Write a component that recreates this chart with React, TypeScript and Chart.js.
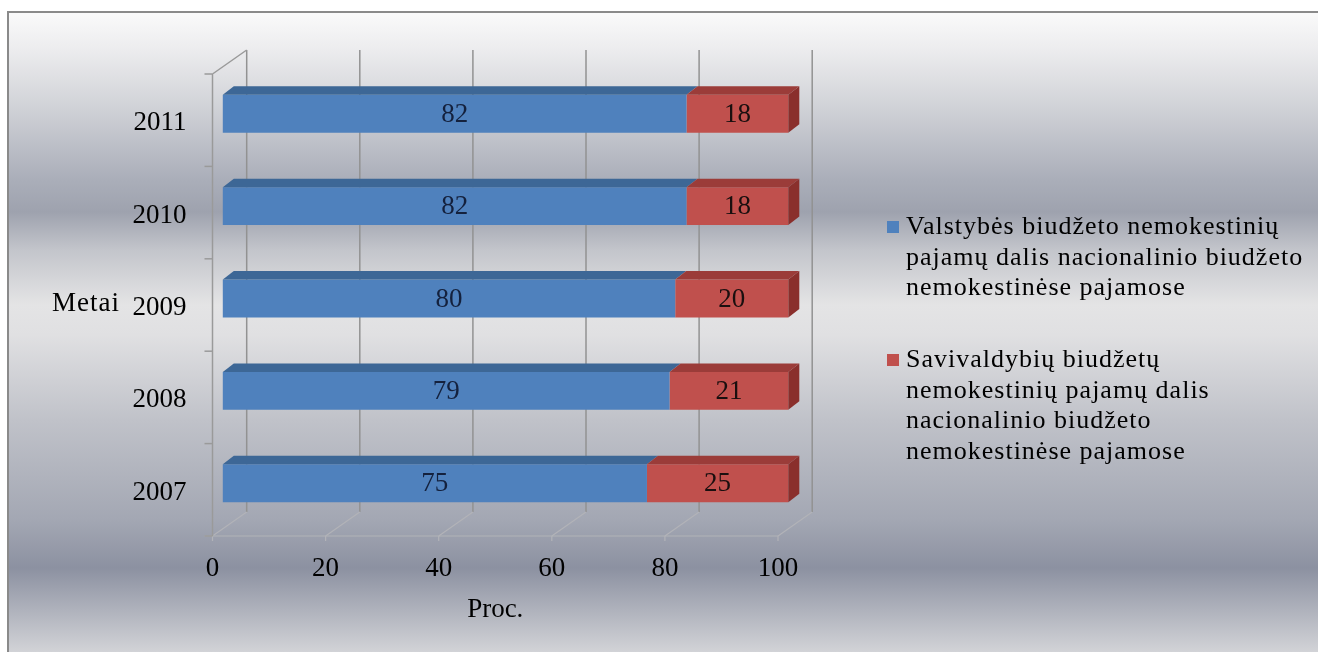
import React, { useEffect, useRef } from 'react';
import { Chart, registerables } from 'chart.js';

Chart.register(...registerables);

// ---------- data ----------
const years = ['2007', '2008', '2009', '2010', '2011'];
const stateShare = [75, 79, 80, 82, 82];
const municipalShare = [25, 21, 20, 18, 18];
const xTickValues = [0, 20, 40, 60, 80, 100];
const seriesNames = [
  'Valstybės biudžeto nemokestinių pajamų dalis nacionalinio biudžeto nemokestinėse pajamose',
  'Savivaldybių biudžetų nemokestinių pajamų dalis nacionalinio biudžeto nemokestinėse pajamose',
];
const legendLines = [
  ['Valstybės biudžeto nemokestinių', 'pajamų dalis nacionalinio biudžeto', 'nemokestinėse pajamose'],
  ['Savivaldybių biudžetų', 'nemokestinių pajamų dalis', 'nacionalinio biudžeto', 'nemokestinėse pajamose'],
];
const xTitle = 'Proc.';
const yTitle = 'Metai';

// ---------- style ----------
const W = 1318;
const H = 652;
const FONT_FAMILY = '"Liberation Serif", "Times New Roman", serif';
const BLUE = '#4f81bd';
const BLUE_TOP = '#3d6796';
const RED = '#c0504d';
const RED_TOP = '#9b3c39';
const RED_SIDE = '#8a2f2c';
const WALL_DX = 34.2;
const WALL_DY = -24;
const BAR_SHIFT_X = 10.3;
const BAR_SHIFT_Y = -6.5;
const BAR_DEPTH_DX = 11;
const BAR_DEPTH_DY = -8.5;

const threeD = {
  id: 'threeD',
  beforeDraw(chart: any) {
    const ctx = chart.ctx as CanvasRenderingContext2D;
    ctx.save();
    ctx.fillStyle = '#ffffff';
    ctx.fillRect(0, 0, W, H);
    const g = ctx.createLinearGradient(0, 12, 0, H);
    const stops: [number, string][] = [
      [12, '#fafafa'],
      [50, '#ececee'],
      [110, '#cfd1d6'],
      [180, '#aaaeb9'],
      [212, '#9ea2ae'],
      [250, '#c3c5cb'],
      [305, '#e4e4e5'],
      [335, '#e0e0e2'],
      [420, '#c0c2c9'],
      [520, '#a3a7b3'],
      [568, '#8c91a1'],
      [610, '#afb2bc'],
      [652, '#d2d3d7'],
    ];
    stops.forEach(([y, c]) => g.addColorStop((y - 12) / (H - 12), c));
    ctx.fillStyle = g;
    ctx.fillRect(8, 12, W - 8, H - 12);
    ctx.strokeStyle = '#8a8a8a';
    ctx.lineWidth = 2;
    ctx.beginPath();
    ctx.moveTo(8, H + 5);
    ctx.lineTo(8, 12);
    ctx.lineTo(W + 5, 12);
    ctx.stroke();
    ctx.restore();
  },
  beforeDatasetsDraw(chart: any) {
    const ctx = chart.ctx as CanvasRenderingContext2D;
    const xs = chart.scales.x;
    const { top, bottom, left } = chart.chartArea;
    ctx.save();
    // back wall gridlines
    ctx.strokeStyle = '#929292';
    ctx.lineWidth = 1.5;
    xTickValues.forEach((v) => {
      const px = xs.getPixelForValue(v) + WALL_DX;
      ctx.beginPath();
      ctx.moveTo(px, top + WALL_DY);
      ctx.lineTo(px, bottom + WALL_DY);
      ctx.stroke();
    });
    // floor diagonals
    ctx.strokeStyle = '#b2b3b8';
    ctx.lineWidth = 1.2;
    xTickValues.forEach((v) => {
      const px = xs.getPixelForValue(v);
      ctx.beginPath();
      ctx.moveTo(px, bottom);
      ctx.lineTo(px + WALL_DX, bottom + WALL_DY);
      ctx.stroke();
      ctx.beginPath();
      ctx.moveTo(px, bottom);
      ctx.lineTo(px, bottom + 5);
      ctx.stroke();
    });
    // front floor line
    ctx.beginPath();
    ctx.moveTo(left - 8, bottom);
    ctx.lineTo(xs.getPixelForValue(100), bottom);
    ctx.stroke();
    // left wall: front vertical + top diagonal + ticks
    ctx.strokeStyle = '#9a9a9a';
    ctx.lineWidth = 1.5;
    ctx.beginPath();
    ctx.moveTo(left, top);
    ctx.lineTo(left, bottom);
    ctx.moveTo(left, top);
    ctx.lineTo(left + WALL_DX, top + WALL_DY);
    ctx.stroke();
    const n = years.length;
    const step = (bottom - top) / n;
    for (let i = 0; i <= n; i++) {
      const y = top + i * step;
      ctx.beginPath();
      ctx.moveTo(left - 8, y);
      ctx.lineTo(left, y);
      ctx.stroke();
    }
    ctx.restore();
    // shift the bars into the middle depth of the 3D box
    ctx.save();
    ctx.translate(BAR_SHIFT_X, BAR_SHIFT_Y);
  },
  afterDatasetsDraw(chart: any) {
    const ctx = chart.ctx as CanvasRenderingContext2D;
    const topColors = [BLUE_TOP, RED_TOP];
    const lastIndex = chart.data.datasets.length - 1;
    chart.data.datasets.forEach((ds: any, di: number) => {
      const meta = chart.getDatasetMeta(di);
      meta.data.forEach((el: any) => {
        const { x, y, base, height } = el.getProps(['x', 'y', 'base', 'height'], true);
        const t = y - height / 2;
        const b = y + height / 2;
        ctx.fillStyle = topColors[di];
        ctx.beginPath();
        ctx.moveTo(base, t);
        ctx.lineTo(x, t);
        ctx.lineTo(x + BAR_DEPTH_DX, t + BAR_DEPTH_DY);
        ctx.lineTo(base + BAR_DEPTH_DX, t + BAR_DEPTH_DY);
        ctx.closePath();
        ctx.fill();
        if (di === lastIndex) {
          ctx.fillStyle = RED_SIDE;
          ctx.beginPath();
          ctx.moveTo(x, t);
          ctx.lineTo(x + BAR_DEPTH_DX, t + BAR_DEPTH_DY);
          ctx.lineTo(x + BAR_DEPTH_DX, b + BAR_DEPTH_DY);
          ctx.lineTo(x, b);
          ctx.closePath();
          ctx.fill();
        }
      });
    });
    // value labels
    ctx.font = `27px ${FONT_FAMILY}`;
    ctx.textAlign = 'center';
    ctx.textBaseline = 'middle';
    const labelColors = ['#14213d', '#1a0f0f'];
    chart.data.datasets.forEach((ds: any, di: number) => {
      const meta = chart.getDatasetMeta(di);
      meta.data.forEach((el: any, i: number) => {
        const { x, y, base } = el.getProps(['x', 'y', 'base'], true);
        ctx.fillStyle = labelColors[di];
        ctx.fillText(String(ds.data[i]), (x + base) / 2, y + 1);
      });
    });
    ctx.restore();
  },
  afterDraw(chart: any) {
    const ctx = chart.ctx as CanvasRenderingContext2D;
    ctx.save();
    ctx.font = `27px ${FONT_FAMILY}`;
    ctx.fillStyle = '#000';
    ctx.textAlign = 'left';
    ctx.textBaseline = 'middle';
    (ctx as any).letterSpacing = '1px';
    ctx.fillText(yTitle, 52, 304);
    // legend
    ctx.font = `26px ${FONT_FAMILY}`;
    const colors = [BLUE, RED];
    const starts = [227, 360];
    const lineGap = 30.7;
    legendLines.forEach((lines, si) => {
      ctx.fillStyle = colors[si];
      ctx.fillRect(887, starts[si] - 6, 12, 12);
      ctx.fillStyle = '#000';
      lines.forEach((ln, li) => {
        ctx.fillText(ln, 906, starts[si] + li * lineGap);
      });
    });
    ctx.restore();
  },
};

export default function App() {
  const ref = useRef<HTMLCanvasElement | null>(null);
  useEffect(() => {
    if (!ref.current) return;
    const font = { family: FONT_FAMILY, size: 27 };
    const chart = new Chart(ref.current, {
      type: 'bar',
      data: {
        labels: years,
        datasets: [
          {
            label: seriesNames[0],
            data: stateShare,
            backgroundColor: BLUE,
            barPercentage: 0.41,
            categoryPercentage: 1,
            clip: false as any,
          },
          {
            label: seriesNames[1],
            data: municipalShare,
            backgroundColor: RED,
            barPercentage: 0.41,
            categoryPercentage: 1,
            clip: false as any,
          },
        ],
      },
      options: {
        indexAxis: 'y',
        responsive: false,
        animation: false,
        layout: { padding: { top: 74, right: W - 778, bottom: 0, left: 0 } },
        plugins: {
          legend: { display: false },
          tooltip: { enabled: false },
        },
        scales: {
          x: {
            stacked: true,
            min: 0,
            max: 100,
            afterBuildTicks: (s: any) => {
              s.ticks = xTickValues.map((v) => ({ value: v }));
            },
            grid: { display: false, drawTicks: false },
            border: { display: false },
            ticks: { font, color: '#000', padding: 17, maxRotation: 0, autoSkip: false },
            title: { display: true, text: xTitle, font, color: '#000', padding: { top: 0, bottom: 26 } },
            afterFit: (s: any) => {
              s.height = 116;
            },
          },
          y: {
            stacked: true,
            reverse: true,
            grid: { display: false, drawTicks: false },
            border: { display: false },
            ticks: { font, color: '#000', padding: 26, labelOffset: 3 },
            afterFit: (s: any) => {
              s.width = 212.5;
            },
          },
        },
      } as any,
      plugins: [threeD],
    });
    return () => chart.destroy();
  }, []);
  return (
    <div style={{ position: 'fixed', left: 0, top: 0, width: W, height: H, overflow: 'hidden' }}>
      <canvas ref={ref} width={W} height={H} style={{ display: 'block', width: W, height: H }} />
    </div>
  );
}
